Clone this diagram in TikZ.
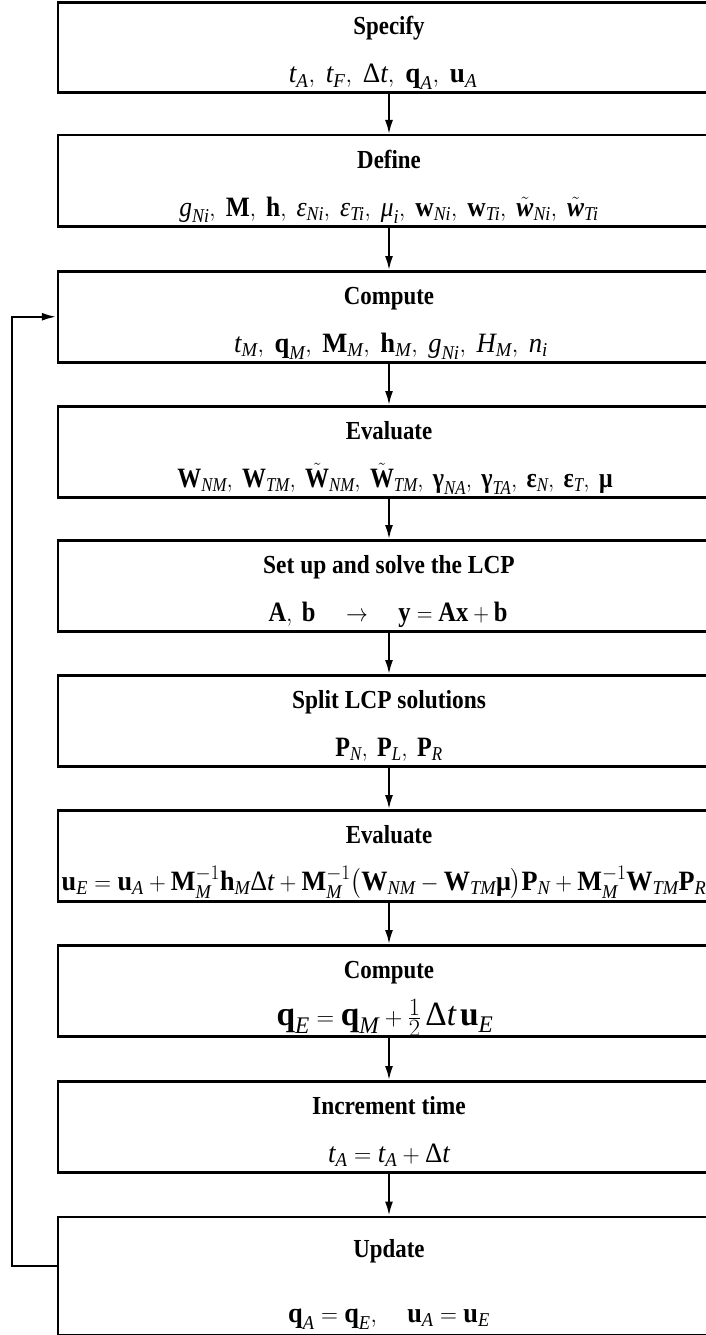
\documentclass[tikz,border=0pt]{standalone}
\usepackage{amsmath}
\usepackage{graphicx}
\usepackage{fontspec}
\setmainfont{Liberation Serif}
\usetikzlibrary{arrows.meta}
\newcommand{\I}[1]{\textit{#1}}
\newcommand{\B}[1]{\textbf{#1}}
\newcommand{\Sb}[1]{_{\textit{#1}}}
\newcommand{\Tw}[1]{\tilde{\textbf{\textit{#1}}}}
\newcommand{\Dt}{\textup{Δ}\textit{t}}
\newcommand{\XS}[2]{\scalebox{#1}[1]{#2}}
\begin{document}
\begin{tikzpicture}[x=1pt,y=-1pt,
  stepbox/.style={draw, line width=2.5pt, minimum width=662pt, inner sep=0pt, anchor=north},
  titletext/.style={font=\fontsize{26}{30}\selectfont\bfseries, anchor=base, inner sep=0pt},
  formtext/.style={font=\fontsize{28}{32}\selectfont, anchor=base, inner sep=0pt},
  flow/.style={line width=2pt, -{Latex[length=14pt,width=8pt]}},
  loopline/.style={line width=2.5pt, -{Latex[length=15pt,width=8pt]}}]
\clip (0,0) rectangle (706,1335);
% boxes
\node[stepbox, minimum height=90pt] (b1) at (389,1.5) {};
\node[stepbox, minimum height=91pt] (b2) at (389,134) {};
\node[stepbox, minimum height=91pt] (b3) at (389,270) {};
\node[stepbox, minimum height=91pt] (b4) at (389,405) {};
\node[stepbox, minimum height=91pt] (b5) at (389,539) {};
\node[stepbox, minimum height=91pt] (b6) at (389,674) {};
\node[stepbox, minimum height=91pt] (b7) at (389,809) {};
\node[stepbox, minimum height=91pt] (b8) at (389,944) {};
\node[stepbox, minimum height=91pt] (b9) at (389,1080) {};
\node[stepbox, minimum height=118pt] (b10) at (389,1215.5) {};
% titles
\node[titletext] (t1) at (389,35) {\XS{0.88}{Specify}};
\node[titletext] (t2) at (389,168) {\XS{0.88}{Define}};
\node[titletext] (t3) at (389,304) {\XS{0.88}{Compute}};
\node[titletext] (t4) at (389,439) {\XS{0.88}{Evaluate}};
\node[titletext] (t5) at (389,573) {\XS{0.9}{Set up and solve the LCP}};
\node[titletext] (t6) at (389,708) {\XS{0.9}{Split LCP solutions}};
\node[titletext] (t7) at (389,843) {\XS{0.88}{Evaluate}};
\node[titletext] (t8) at (389,978) {\XS{0.88}{Compute}};
\node[titletext] (t9) at (389,1114) {\XS{0.9}{Increment time}};
\node[titletext] (t10) at (389,1257) {\XS{0.88}{Update}};
% formulas
\node[formtext] (f1) at (383,83) {\XS{0.97}{$\I{t}\Sb{A},\ \I{t}\Sb{F},\ \Dt,\ \B{q}\Sb{A},\ \B{u}\Sb{A}$}};
\node[formtext] (f2) at (389,216) {\XS{0.91}{$\I{g}\Sb{Ni},\ \B{M},\ \B{h},\ \I{ε}\Sb{Ni},\ \I{ε}\Sb{Ti},\ \I{μ}\Sb{i},\ \B{w}\Sb{Ni},\ \B{w}\Sb{Ti},\ \Tw{w}\Sb{Ni},\ \Tw{w}\Sb{Ti}$}};
\node[formtext] (f3) at (391,352) {\XS{0.95}{$\I{t}\Sb{M},\ \B{q}\Sb{M},\ \B{M}\Sb{M},\ \B{h}\Sb{M},\ \I{g}\Sb{Ni},\ \I{H}\Sb{M},\ \I{n}\Sb{i}$}};
\node[formtext] (f4) at (395,487) {\XS{0.855}{$\B{W}\Sb{NM},\ \B{W}\Sb{TM},\ \tilde{\B{W}}\Sb{NM},\ \tilde{\B{W}}\Sb{TM},\ \B{γ}\Sb{NA},\ \B{γ}\Sb{TA},\ \B{ε}\Sb{N},\ \B{ε}\Sb{T},\ \B{μ}$}};
\node[formtext] (f5) at (388,621) {\XS{0.875}{$\B{A},\ \B{b}\quad\rightarrow\quad \B{y}=\B{Ax}+\B{b}$}};
\node[formtext] (f6) at (389,756) {\XS{0.86}{$\B{P}\Sb{N},\ \B{P}\Sb{L},\ \B{P}\Sb{R}$}};
\node[formtext] (f7) at (384,890) {\XS{0.935}{$\B{u}\Sb{E}=\B{u}\Sb{A}+\B{M}^{-1}\Sb{M}\B{h}\Sb{M}\Dt+\B{M}^{-1}\Sb{M}\bigl(\B{W}\Sb{NM}-\B{W}\Sb{TM}\B{μ}\bigr)\B{P}\Sb{N}+\B{M}^{-1}\Sb{M}\B{W}\Sb{TM}\B{P}\Sb{R}$}};
\node[formtext, font=\fontsize{34}{37}\selectfont] (f8) at (385,1025) {\XS{0.98}{$\B{q}\Sb{E}=\B{q}\Sb{M}+\tfrac{1}{2}\,\Dt\,\B{u}\Sb{E}$}};
\node[formtext] (f9) at (389,1162) {\XS{0.96}{$\I{t}\Sb{A}=\I{t}\Sb{A}+\Dt$}};
\node[formtext] (f10) at (389,1322) {\XS{0.94}{$\B{q}\Sb{A}=\B{q}\Sb{E},\quad \B{u}\Sb{A}=\B{u}\Sb{E}$}};
% flow arrows
\draw[flow] (b1.south) -- (b2.north);
\draw[flow] (b2.south) -- (b3.north);
\draw[flow] (b3.south) -- (b4.north);
\draw[flow] (b4.south) -- (b5.north);
\draw[flow] (b5.south) -- (b6.north);
\draw[flow] (b6.south) -- (b7.north);
\draw[flow] (b7.south) -- (b8.north);
\draw[flow] (b8.south) -- (b9.north);
\draw[flow] (b9.south) -- (b10.north);
% feedback loop
\coordinate (lpS) at ([yshift=10pt]b10.west);
\draw[loopline] (lpS) -- ++(-45,0) |- (b3.west);
\end{tikzpicture}
\end{document}
